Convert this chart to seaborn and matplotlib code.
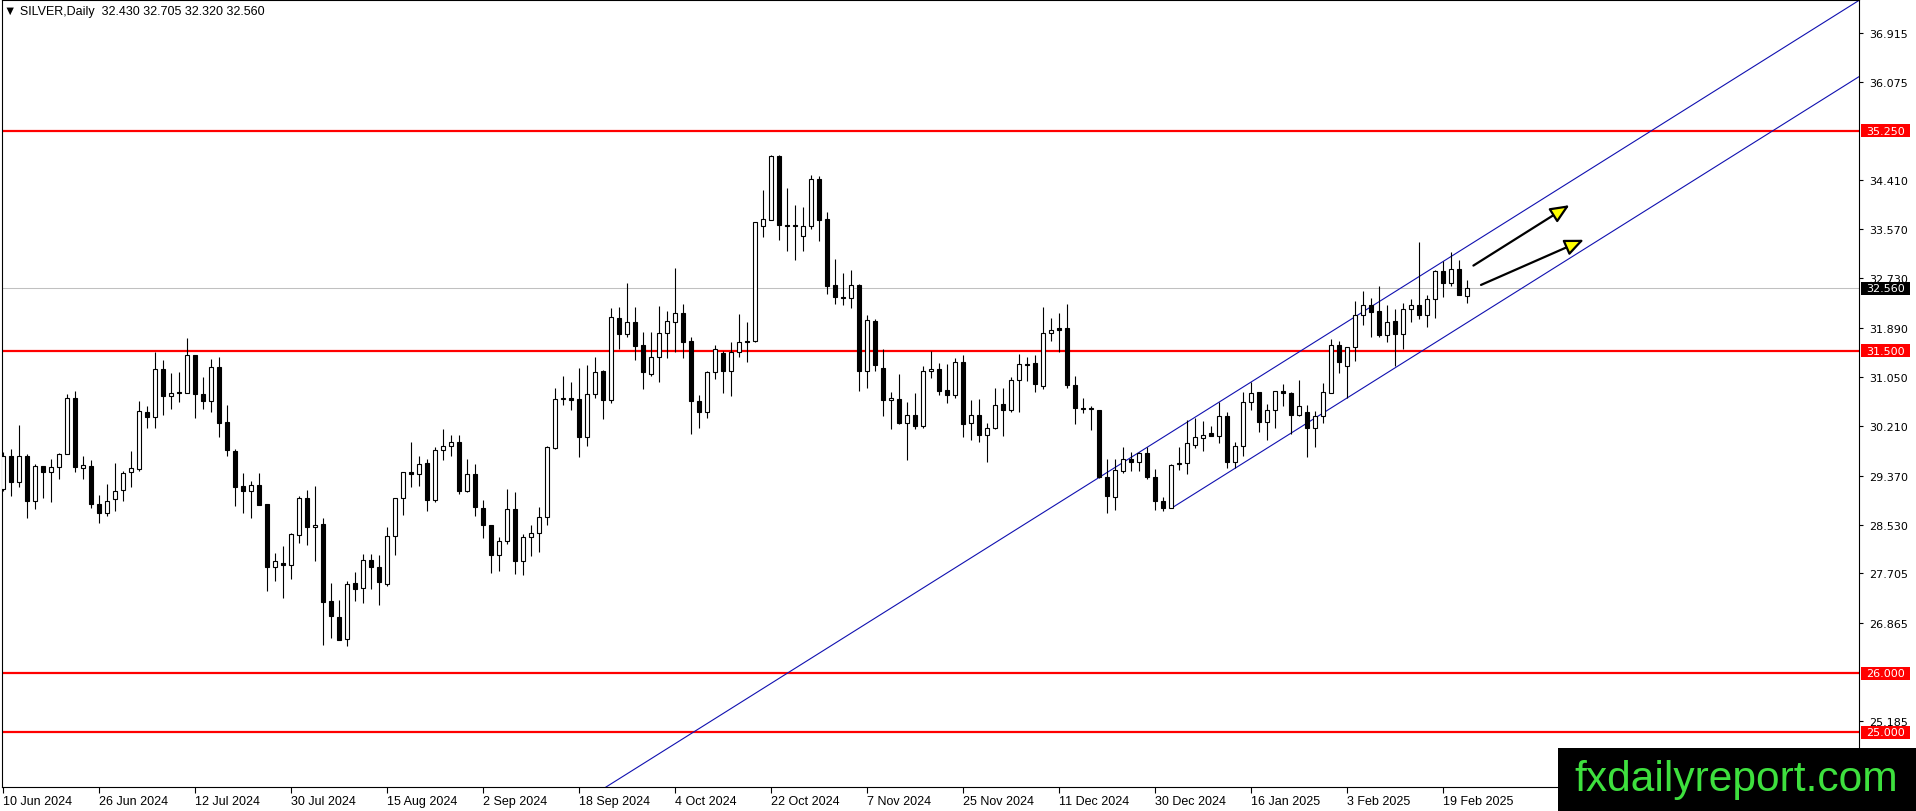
import numpy as np
import pandas as pd
import matplotlib
matplotlib.use("Agg")
import matplotlib.pyplot as plt
import matplotlib.transforms as mtransforms
from matplotlib.patches import Rectangle
import seaborn as sns

# daily OHLC, 10 Jun 2024 .. 24 Feb 2025 (one value per trading day)
opens = [29.14, 29.71, 29.26, 29.71, 28.93, 29.53, 29.44, 29.51, 29.73, 30.70,
         29.50, 29.54, 28.88, 28.74, 28.97, 29.13, 29.43, 29.48, 30.46, 30.37,
         31.18, 30.72, 30.80, 30.78, 31.42, 30.76, 30.64, 31.22, 30.28, 29.79,
         29.19, 29.10, 29.21, 28.88, 27.82, 27.88, 27.85, 28.35, 28.98, 28.49,
         28.54, 27.23, 26.96, 26.58, 27.54, 27.45, 27.94, 27.82, 27.53, 28.34,
         28.99, 29.43, 29.40, 29.58, 28.96, 29.80, 29.88, 29.94, 29.10, 29.39,
         28.82, 28.53, 28.01, 28.25, 28.80, 27.91, 28.32, 28.39, 28.66, 29.84,
         30.67, 30.70, 30.67, 30.03, 30.76, 31.15, 30.66, 32.05, 31.78, 31.98,
         31.60, 31.11, 31.40, 31.80, 31.98, 32.14, 31.66, 30.64, 30.45, 31.14,
         31.46, 31.16, 31.47, 31.66, 31.66, 33.62, 33.73, 34.82, 33.65, 33.65,
         33.46, 33.63, 34.43, 33.74, 32.62, 32.41, 32.40, 32.62, 31.15, 32.00,
         31.21, 30.66, 30.68, 30.27, 30.41, 30.21, 31.15, 31.19, 30.83, 30.74,
         31.30, 30.26, 30.40, 30.06, 30.19, 30.59, 30.48, 31.00, 31.28, 31.29,
         30.90, 31.80, 31.88, 31.88, 30.92, 30.53, 30.53, 30.49, 29.34, 29.00,
         29.45, 29.66, 29.60, 29.76, 29.34, 28.94, 28.81, 29.56, 29.58, 29.90,
         30.01, 30.10, 30.04, 30.39, 29.60, 29.87, 30.63, 30.79, 30.29, 30.49,
         30.81, 30.77, 30.41, 30.45, 30.18, 30.38, 30.77, 31.60, 31.24, 31.56,
         32.10, 32.27, 32.18, 31.76, 32.00, 31.78, 32.21, 32.28, 32.11, 32.38,
         32.86, 32.65, 32.90, 32.430]
highs = [29.78, 29.82, 30.23, 29.73, 29.57, 29.54, 29.65, 29.75, 30.76, 30.82,
         29.70, 29.63, 29.04, 29.23, 29.59, 29.45, 29.79, 30.64, 30.55, 31.47,
         31.34, 31.12, 31.14, 31.71, 31.43, 31.05, 31.36, 31.39, 30.57, 29.82,
         29.42, 29.27, 29.41, 28.88, 28.05, 28.17, 28.39, 29.03, 29.12, 29.19,
         28.65, 27.54, 27.25, 27.57, 27.73, 28.03, 28.04, 28.01, 28.49, 28.99,
         29.44, 29.94, 29.70, 29.65, 29.85, 30.16, 30.06, 30.06, 29.65, 29.56,
         28.95, 28.53, 28.33, 29.14, 29.09, 28.38, 28.53, 28.83, 29.88, 30.87,
         31.07, 30.97, 31.20, 31.25, 31.39, 31.17, 32.23, 32.24, 32.66, 32.24,
         31.81, 31.81, 32.26, 32.17, 32.91, 32.30, 31.73, 30.74, 31.16, 31.60,
         31.50, 31.64, 32.12, 31.98, 33.70, 34.24, 34.83, 34.83, 34.27, 33.98,
         33.94, 34.49, 34.48, 33.86, 33.07, 32.83, 32.87, 32.63, 32.11, 32.04,
         31.52, 30.79, 31.10, 30.62, 30.78, 31.23, 31.50, 31.29, 31.27, 31.38,
         31.42, 30.66, 30.68, 30.27, 30.87, 30.86, 31.05, 31.44, 31.39, 31.43,
         32.24, 32.05, 32.14, 32.30, 31.07, 30.70, 30.56, 30.49, 29.65, 29.66,
         29.85, 29.77, 29.78, 29.85, 29.48, 29.00, 29.57, 29.86, 30.31, 30.36,
         30.30, 30.21, 30.62, 30.46, 29.95, 30.79, 30.96, 30.80, 30.59, 30.82,
         30.93, 30.80, 31.00, 30.57, 30.47, 30.95, 31.70, 31.67, 31.56, 32.34,
         32.52, 32.40, 32.60, 32.28, 32.21, 32.32, 32.38, 33.36, 32.45, 32.88,
         33.03, 33.18, 33.04, 32.705]
lows = [29.11, 29.02, 29.17, 28.64, 28.80, 28.99, 28.92, 29.31, 29.73, 29.44,
        29.31, 28.81, 28.56, 28.68, 28.76, 28.94, 29.18, 29.45, 30.18, 30.18,
        30.41, 30.50, 30.62, 30.77, 30.36, 30.50, 30.46, 30.02, 29.71, 28.86,
        28.73, 28.65, 28.87, 27.41, 27.58, 27.28, 27.61, 28.22, 28.19, 27.92,
        26.48, 26.60, 26.56, 26.46, 27.23, 27.20, 27.44, 27.17, 27.48, 28.02,
        28.70, 29.18, 29.20, 28.77, 28.92, 29.63, 29.70, 29.06, 29.09, 28.68,
        28.31, 27.71, 27.75, 28.20, 27.69, 27.68, 28.00, 28.06, 28.52, 29.83,
        30.58, 30.49, 29.68, 29.88, 30.70, 30.34, 30.61, 31.53, 31.73, 31.34,
        30.85, 31.07, 30.97, 31.38, 31.47, 31.38, 30.08, 30.19, 30.35, 31.02,
        30.77, 30.73, 31.39, 31.30, 31.65, 33.43, 33.72, 33.39, 33.20, 33.05,
        33.19, 33.58, 33.37, 32.47, 32.29, 32.27, 32.22, 30.81, 30.86, 31.16,
        30.39, 30.16, 30.25, 29.64, 30.16, 30.19, 31.03, 30.74, 30.61, 30.70,
        30.03, 29.97, 29.94, 29.61, 30.16, 30.05, 30.45, 30.46, 30.99, 30.79,
        30.85, 31.67, 31.48, 30.86, 30.25, 30.44, 30.14, 29.33, 28.73, 28.79,
        29.41, 29.45, 29.45, 29.31, 28.79, 28.76, 28.81, 29.47, 29.39, 29.84,
        29.79, 30.04, 29.93, 29.50, 29.50, 29.71, 30.49, 30.11, 29.97, 30.18,
        30.55, 30.08, 30.38, 29.68, 29.85, 30.27, 30.77, 31.12, 30.69, 31.33,
        31.93, 31.73, 31.74, 31.64, 31.23, 31.52, 31.98, 32.04, 31.90, 32.05,
        32.42, 32.60, 32.44, 32.320]
closes = [29.71, 29.26, 29.71, 28.93, 29.54, 29.44, 29.52, 29.74, 30.70, 29.51,
          29.55, 28.88, 28.74, 28.94, 29.10, 29.42, 29.50, 30.47, 30.37, 31.18,
          30.72, 30.77, 30.77, 31.42, 30.76, 30.65, 31.22, 30.27, 29.80, 29.18,
          29.10, 29.21, 28.87, 27.82, 27.91, 27.85, 28.37, 28.98, 28.50, 28.53,
          27.22, 26.97, 26.57, 27.52, 27.43, 27.94, 27.82, 27.55, 28.34, 28.98,
          29.43, 29.40, 29.57, 28.96, 29.80, 29.88, 29.95, 29.10, 29.39, 28.83,
          28.52, 28.01, 28.25, 28.80, 27.91, 28.33, 28.39, 28.66, 29.86, 30.67,
          30.70, 30.66, 30.03, 30.76, 31.13, 30.66, 32.07, 31.78, 31.98, 31.58,
          31.13, 31.40, 31.80, 32.00, 32.14, 31.65, 30.65, 30.45, 31.14, 31.52,
          31.16, 31.47, 31.64, 31.64, 33.69, 33.74, 34.82, 33.65, 33.63, 33.63,
          33.63, 34.43, 33.73, 32.61, 32.41, 32.39, 32.62, 31.15, 32.02, 31.26,
          30.66, 30.70, 30.27, 30.41, 30.22, 31.15, 31.19, 30.82, 30.74, 31.30,
          30.25, 30.41, 30.07, 30.19, 30.58, 30.48, 31.00, 31.27, 31.26, 30.94,
          31.80, 31.86, 31.86, 30.91, 30.53, 30.50, 30.51, 29.34, 29.02, 29.47,
          29.65, 29.60, 29.75, 29.34, 28.94, 28.81, 29.55, 29.59, 29.92, 30.02,
          30.07, 30.04, 30.38, 29.60, 29.87, 30.62, 30.78, 30.29, 30.49, 30.81,
          30.77, 30.41, 30.56, 30.18, 30.38, 30.79, 31.60, 31.30, 31.56, 32.10,
          32.27, 32.16, 31.76, 31.99, 31.79, 32.21, 32.28, 32.11, 32.38, 32.86,
          32.65, 32.90, 32.44, 32.560]

symbol = "SILVER,Daily"
date_labels = ["10 Jun 2024", "26 Jun 2024", "12 Jul 2024", "30 Jul 2024",
               "15 Aug 2024", "2 Sep 2024", "18 Sep 2024", "4 Oct 2024",
               "22 Oct 2024", "7 Nov 2024", "25 Nov 2024", "11 Dec 2024",
               "30 Dec 2024", "16 Jan 2025", "3 Feb 2025", "19 Feb 2025"]
bars_per_label = 12
price_ticks = [36.915, 36.075, 34.410, 33.570, 32.730, 31.890, 31.050,
               30.210, 29.370, 28.530, 27.705, 26.865, 25.185]
levels = [35.25, 31.50, 26.00, 25.00]

# trend channel (bar index, price)
upper_bars = [75, 232]
upper_prices = [24.03, 37.47]
lower_bars = [146, 232]
lower_prices = [28.81, 36.17]

# arrows (bar index, price)
arrow_from = [(183.8, 32.95), (184.75, 32.62)]
arrow_to = [(195.8, 33.98), (197.6, 33.39)]

# ---- layout in pixels ----
W, H = 1916, 812
px_left, px_right, px_top, px_bottom = 2, 1859, 1, 788
bar_px, first_px = 8.0, 3.0
px_per_unit, y_of_25 = 58.67, 733.0

sns.set_style("white")
plt.rcParams['font.family'] = ['Liberation Sans', 'DejaVu Sans']

fig = plt.figure(figsize=(W / 100, H / 100), dpi=100)
ax = fig.add_axes([px_left / W, 1 - px_bottom / H,
                   (px_right - px_left) / W, (px_bottom - px_top) / H])
ax.set_xlim((px_left - first_px) / bar_px, (px_right - first_px) / bar_px)
ax.set_ylim(25 - (px_bottom - y_of_25) / px_per_unit,
            25 + (y_of_25 - px_top) / px_per_unit)

df = pd.DataFrame({'open': opens, 'high': highs, 'low': lows, 'close': closes})
df['bar'] = np.arange(len(df))
df['up'] = df['close'] >= df['open']

# levels + last price
ax.axhline(closes[-1], color='#c0c0c0', lw=0.75, zorder=1)
for lvl in levels:
    ax.axhline(lvl, color='#ff0000', lw=1.6, zorder=2)

# channel via seaborn
chan = pd.DataFrame({'bar': upper_bars + lower_bars,
                     'price': upper_prices + lower_prices,
                     'line': ['upper'] * 2 + ['lower'] * 2})
sns.lineplot(data=chan, x='bar', y='price', units='line', estimator=None,
             color='#1010b0', lw=0.8, ax=ax, legend=False, zorder=2)

# candles
ax.vlines(df['bar'], df['low'], df['high'], color='black', lw=0.8, zorder=3)
body_lo = df[['open', 'close']].min(axis=1)
body_h = (df['close'] - df['open']).abs().clip(lower=0.005)
ax.bar(df['bar'], body_h, bottom=body_lo, width=0.5,
       color=np.where(df['up'], 'white', 'black'), edgecolor='black',
       linewidth=0.8, zorder=4)

# arrows
for s, e in zip(arrow_from, arrow_to):
    ax.annotate('', xy=e, xytext=s,
                arrowprops=dict(arrowstyle='-|>,head_length=1.15,head_width=0.5',
                                lw=1.6, ec='black', fc='#ffff00',
                                shrinkA=0, shrinkB=0), zorder=5)

# axes styling
for sp in ax.spines.values():
    sp.set_color('black')
    sp.set_linewidth(0.8)
ax.set_xlabel('')
ax.set_ylabel('')

ax.yaxis.tick_right()
ax.set_yticks(price_ticks)
ax.set_yticklabels([f"{t:.3f}" for t in price_ticks])
ax.tick_params(axis='y', right=True, left=False, length=3, width=0.8,
               color='black', pad=4, labelsize=8, labelcolor='black')
for lab in ax.get_yticklabels():
    lab.set_family('DejaVu Sans')

ax.set_xticks(np.arange(len(date_labels)) * bars_per_label)
ax.set_xticklabels(date_labels, ha='left')
ax.tick_params(axis='x', bottom=True, length=4, width=0.8, color='black',
               pad=2, labelsize=9, labelcolor='black')

# coloured price boxes on the right scale
blend = mtransforms.blended_transform_factory(ax.transAxes, ax.transData)
axw = px_right - px_left
boxes = [(lvl, '#ff0000') for lvl in levels] + [(closes[-1], 'black')]
for lvl, fc in boxes:
    ax.add_patch(Rectangle(((1861 - px_left) / axw, lvl - 6.5 / px_per_unit),
                           49 / axw, 13 / px_per_unit, transform=blend,
                           fc=fc, ec='none', clip_on=False, zorder=6))
    ax.text((1866 - px_left) / axw, lvl, f"{lvl:.3f}", transform=blend,
            color='white', va='center', ha='left', fontsize=8,
            family='DejaVu Sans', clip_on=False, zorder=7)

# header text
fig.text(4 / W, 1 - 12 / H,
         "\u25bc " + symbol + "  " + " ".join(
             f"{v:.3f}" for v in (opens[-1], highs[-1], lows[-1], closes[-1])),
         fontsize=9, va='center', ha='left', color='black')

# watermark
fig.patches.append(Rectangle((1558 / W, 0), (W - 1558) / W, 63 / H,
                             transform=fig.transFigure, fc='black', ec='none',
                             zorder=10))
fig.text(1574 / W, (H - 791) / H, "fxdailyreport.com", fontsize=30.6,
         family='Liberation Sans', color='#3ee03e', va='baseline', ha='left',
         zorder=11)

fig.savefig('out.png', dpi=100, facecolor='white')
